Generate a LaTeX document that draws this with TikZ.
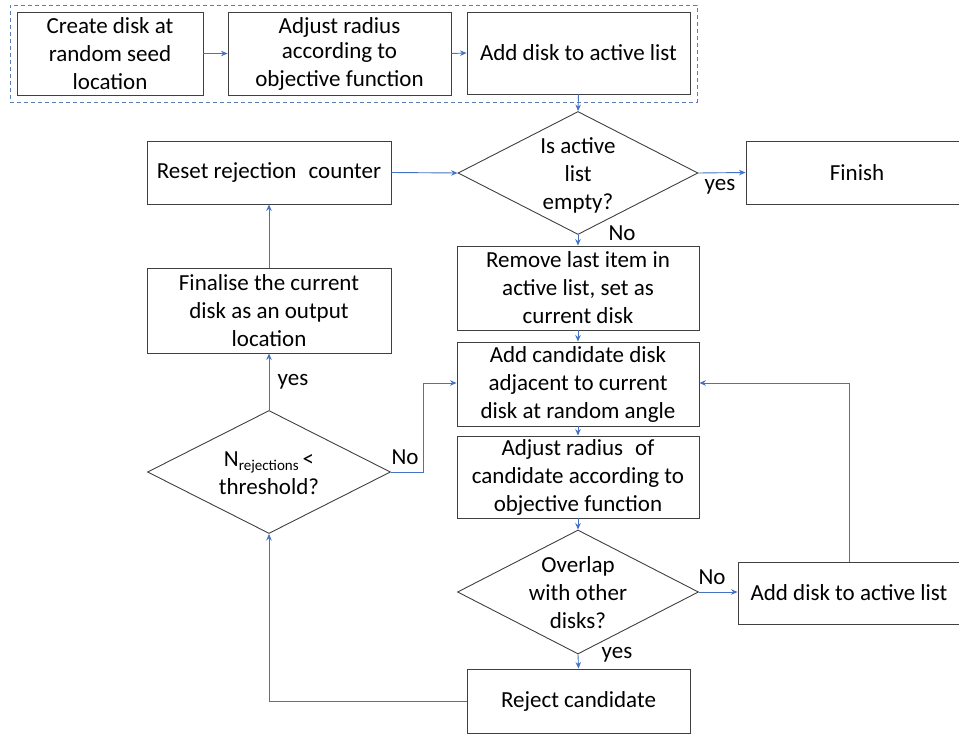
\documentclass[tikz,border=0pt]{standalone}
\usepackage{fontspec}
\setmainfont{Carlito}
\usetikzlibrary{shapes.geometric,arrows.meta}
\definecolor{lineblue}{HTML}{4472C4}
\definecolor{dashblue}{HTML}{5A7DB5}
\definecolor{boxgrey}{HTML}{404040}
\tikzset{
  box/.style={draw=boxgrey, line width=0.9pt, rectangle, inner sep=0pt, align=center,
    font=\fontsize{23}{28}\selectfont},
  dia/.style={draw=boxgrey, line width=0.9pt, diamond, inner sep=0pt, aspect=2},
  dtext/.style={align=center, inner sep=0pt, font=\fontsize{23}{28}\selectfont},
  lbl/.style={inner sep=0pt, font=\fontsize{23}{28}\selectfont},
  conn/.style={draw=lineblue, line width=0.9pt, -{Stealth[length=6.5pt,width=5.5pt]}},
}
\begin{document}
\begin{tikzpicture}[x=1pt,y=-1pt]
\useasboundingbox (0,0) rectangle (959,735);
% dashed group frame
\node[draw=dashblue, line width=0.9pt, dash pattern=on 4pt off 3pt, inner sep=0pt,
  minimum width=687pt, minimum height=97pt] (grp) at (353.5,53.5) {};
% top row
\node[box, minimum width=186pt, minimum height=83pt] (b1) at (110,53.5) {Create disk at\\random seed\\location};
\node[box, minimum width=223pt, minimum height=83pt] (b2) at (339.5,53.5) {\raisebox{-3pt}{Adjust radius}\\according to\\objective function};
\node[box, minimum width=223pt, minimum height=82pt] (b3) at (578.5,53) {Add disk to active list};
% decision 1
\node[dia, minimum width=240pt, minimum height=123pt] (d1) at (578,173) {};
\node[dtext] (d1t) at (578,175) {Is active\\list\\empty?};
\node[box, minimum width=244pt, minimum height=63pt] (reset) at (269,172.5) {Reset rejection\hspace{0.3em} counter};
\node[box, minimum width=222pt, minimum height=63pt] (finish) at (857,172.5) {Finish};
% middle column
\node[box, minimum width=242pt, minimum height=84pt] (remove) at (578,288) {Remove last item in\\active list, set as\\current disk};
\node[box, minimum width=242pt, minimum height=84pt] (cand) at (578,384) {Add candidate disk\\adjacent to current\\disk at random angle};
\node[box, minimum width=242pt, minimum height=82pt] (adjust) at (578,477) {Adjust radius\hspace{0.3em} of\\candidate according to\\objective function};
\node[dia, minimum width=241pt, minimum height=124pt] (d3) at (578,592) {};
\node[dtext] (d3t) at (578,593) {Overlap\\with other\\disks?};
\node[box, minimum width=222pt, minimum height=62pt] (add2) at (849,593) {Add disk to active list};
\node[box, minimum width=223pt, minimum height=64pt] (reject) at (578.5,701) {Reject candidate};
% left column
\node[box, minimum width=244pt, minimum height=85pt] (final) at (269,310.5) {Finalise the current\\disk as an output\\location};
\node[dia, minimum width=243pt, minimum height=123pt] (d2) at (269,472) {};
\node[dtext] (d2t) at (269,473) {N\raisebox{-0.35ex}{\fontsize{15}{15}\selectfont rejections}\,<\\threshold?};
% corner coordinates
\coordinate (c1) at (849,383);
\coordinate (c2) at (423,472);
\coordinate (c3) at (423,383);
\coordinate (c4) at (269,701);
% connectors
\draw[conn] (b1.east) -- (b2.west);
\draw[conn] (b2.east) -- (b3.west);
\draw[conn] (b3.south) -- (d1.north);
\draw[conn] (reset.east) -- (d1.west);
\draw[conn] (d1.east) -- (finish.west);
\draw[conn] (d1.south) -- (remove.north);
\draw[conn] (remove.south) -- (cand.north);
\draw[conn] (cand.south) -- (adjust.north);
\draw[conn] (adjust.south) -- (d3.north);
\draw[conn] (d3.east) -- (d3.east -| add2.west);
\draw[conn] (d3.south) -- (reject.north);
\draw[conn] (add2.north -| c1) -- (c1) -- (c1 -| cand.east);
\draw[conn] (reject.west) -- (c4) -- (d2.south);
\draw[conn] (d2.east) -- (c2) -- (c3) -- (cand.west |- c3);
\draw[conn] (d2.north) -- (final.south);
\draw[conn] (final.north) -- (reset.south);
% labels
\node[lbl] (l1) at (720,187) {yes};
\node[lbl] (l2) at (622,233) {No};
\node[lbl] (l3) at (293,382) {yes};
\node[lbl] (l4) at (405,457) {No};
\node[lbl] (l5) at (712,577) {No};
\node[lbl] (l6) at (617,655) {yes};
\end{tikzpicture}
\end{document}
